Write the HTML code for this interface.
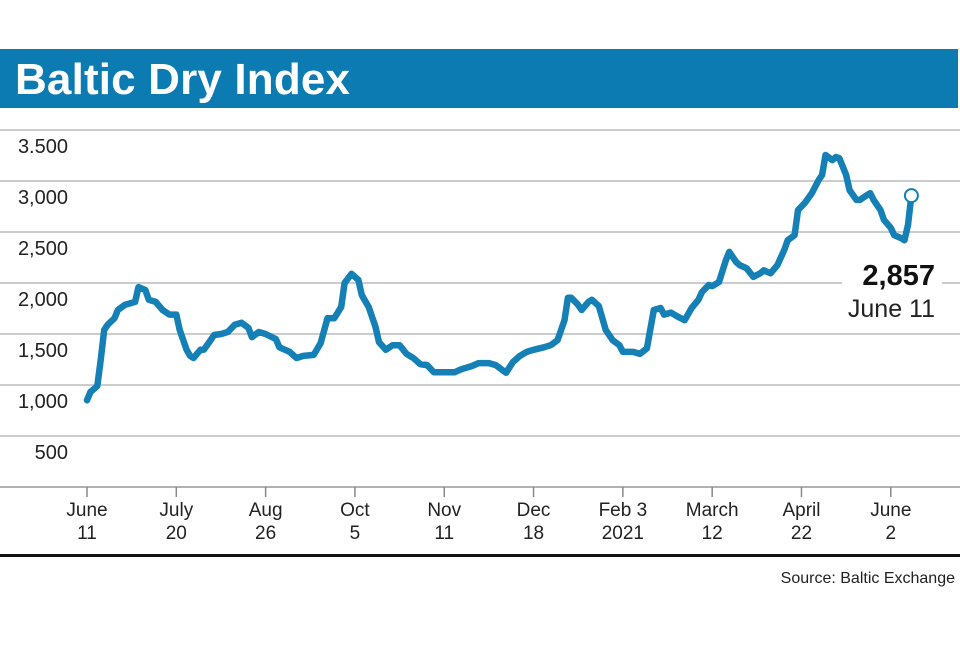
<!DOCTYPE html>
<html><head><meta charset="utf-8"><style>
body{margin:0;background:#fff;width:960px;height:640px;overflow:hidden;font-family:"Liberation Sans",sans-serif}
</style></head><body>
<svg width="960" height="640" viewBox="0 0 960 640">
<rect x="0" y="49" width="958" height="59" fill="#0b7bb2"/>
<text x="15" y="94" font-size="44" font-weight="bold" fill="#fff" font-family="Liberation Sans, sans-serif" textLength="335">Baltic Dry Index</text>
<g id="grid"></g>
<g id="yl"></g>
<g id="xl"></g>
<path id="line" fill="none" stroke="#1480b6" stroke-width="6.5" stroke-linejoin="round" stroke-linecap="round"/>
<circle id="endpt" r="6.5" fill="#fff" stroke="#1480b6" stroke-width="2"/>
<rect x="842" y="262" width="100" height="30" fill="#fff"/>
<text x="935" y="285" text-anchor="end" font-size="29" font-weight="bold" fill="#111">2,857</text>
<text x="935" y="317" text-anchor="end" font-size="25" fill="#222">June 11</text>
<rect x="0" y="554" width="960" height="3" fill="#111"/>
<text x="955" y="583" text-anchor="end" font-size="16" fill="#222">Source: Baltic Exchange</text>
</svg>
<script>
const yTicks=[500,1000,1500,2000,2500,3000,3500];
const yTickLabels=["500","1,000","1,500","2,000","2,500","3,000","3.500"];
const xTickIdx=[0,26,52,78,104,130,156,182,208,234];
const xTickTop=["June","July","Aug","Oct","Nov","Dec","Feb 3","March","April","June"];
const xTickBottom=["11","20","26","5","11","18","2021","12","22","2"];
const dayIdx=[0,1,3,4,5,6,8,9,11,13,14,15,17,18,20,22,24,26,27,29,30,31,33,34,36,37,39,41,43,45,47,48,50,52,55,56,59,61,63,66,68,70,72,74,75,77,79,80,82,84,85,87,89,91,93,95,97,99,101,104,107,109,112,114,117,119,122,124,126,128,130,133,135,137,139,140,141,143,144,146,147,149,151,153,155,156,159,161,163,165,167,168,170,172,174,176,178,179,181,182,184,186,187,189,190,192,194,196,197,199,201,203,204,206,207,209,211,213,214,215,217,218,219,221,222,224,225,227,228,229,231,232,234,235,237,238,239,240];
const bdiValues=[850,930,990,1245,1540,1590,1655,1735,1785,1805,1815,1960,1930,1835,1815,1735,1690,1690,1540,1345,1285,1265,1345,1345,1440,1490,1500,1520,1590,1610,1560,1470,1520,1500,1450,1370,1325,1265,1285,1295,1410,1655,1655,1765,2000,2090,2030,1880,1765,1570,1420,1345,1390,1390,1305,1265,1205,1195,1125,1125,1125,1155,1185,1215,1215,1195,1120,1225,1285,1325,1345,1370,1390,1440,1635,1855,1855,1785,1735,1815,1835,1775,1540,1440,1390,1325,1325,1305,1360,1735,1755,1690,1710,1670,1635,1755,1835,1910,1980,1970,2010,2225,2305,2205,2175,2145,2060,2095,2125,2095,2175,2325,2420,2470,2715,2785,2880,3010,3060,3255,3205,3235,3225,3060,2910,2815,2815,2860,2880,2815,2715,2620,2540,2470,2440,2420,2570,2857];
const NS="http://www.w3.org/2000/svg";
const X=d=>87+d*3.435;
const Y=v=>487-v*0.102;
const grid=document.getElementById('grid'),yl=document.getElementById('yl'),xl=document.getElementById('xl');
[0].concat(yTicks).forEach(v=>{
 const l=document.createElementNS(NS,'line');
 l.setAttribute('x1',0);l.setAttribute('x2',960);l.setAttribute('y1',Y(v));l.setAttribute('y2',Y(v));
 l.setAttribute('stroke',v===0?'#999':'#bbb');l.setAttribute('stroke-width',1.5);
 
 
 grid.appendChild(l);
});
yTicks.forEach((v,i)=>{
 const t=document.createElementNS(NS,'text');
 t.setAttribute('x',68);t.setAttribute('y',Y(v)+23);t.setAttribute('text-anchor','end');
 t.setAttribute('font-size','20');t.setAttribute('fill','#222');t.textContent=yTickLabels[i];
 
 
 yl.appendChild(t);
});
xTickIdx.forEach((d,i)=>{
 const x=X(d);
 const l=document.createElementNS(NS,'line');
 l.setAttribute('x1',x);l.setAttribute('x2',x);l.setAttribute('y1',487);l.setAttribute('y2',497);
 l.setAttribute('stroke','#888');l.setAttribute('stroke-width',1.5);
 
 
 xl.appendChild(l);
 [xTickTop[i],xTickBottom[i]].forEach((s,j)=>{
  const t=document.createElementNS(NS,'text');
  t.setAttribute('x',x);t.setAttribute('y',516+j*23);t.setAttribute('text-anchor','middle');
  t.setAttribute('font-size','19');t.setAttribute('fill','#222');t.textContent=s;
  
  
  xl.appendChild(t);
 });
});
document.getElementById('line').setAttribute('d',bdiValues.map((v,i)=>(i?'L':'M')+X(dayIdx[i]).toFixed(1)+' '+Y(v).toFixed(1)).join(''));
const n=bdiValues.length-1;
const c=document.getElementById('endpt');
c.setAttribute('cx',X(dayIdx[n]));c.setAttribute('cy',Y(bdiValues[n]));
</script>
</body></html>
